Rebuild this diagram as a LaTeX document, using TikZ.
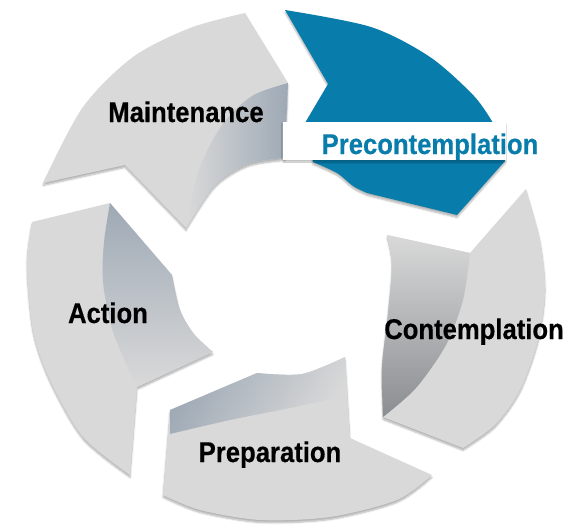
\documentclass[tikz,border=0pt]{standalone}
\usepackage{fontspec}
\newfontfamily\cyclefont{Liberation Sans}[FakeStretch=0.9, BoldFeatures={FakeBold=0.4}]
\usetikzlibrary{shadows.blur}

\definecolor{precblue}{RGB}{8,125,172}
\definecolor{seggray}{RGB}{217,217,217}
\definecolor{foldblue}{RGB}{158,169,181}
\definecolor{folddark}{RGB}{138,141,145}

\begin{document}
\begin{tikzpicture}[x=1pt, y=-1pt,
    segment/.style={fill=seggray, blur shadow={shadow xshift=0pt, shadow yshift=-2.5pt, shadow opacity=30, shadow blur steps=6}},
    stage/.style={font=\cyclefont\bfseries\fontsize{28.5pt}{30pt}\selectfont, anchor=base, inner sep=0pt}
]
\useasboundingbox (0,0) rectangle (568,527);

% Arrows
\path[segment] plot[smooth] coordinates {(43,183) (83,107) (133,57) (190,28) (245,13)} -- (288,83) -- (285,158)
  -- plot[smooth] coordinates {(285,158) (248,164) (215,185) (186,228)} -- (125,165) -- cycle;
\path[segment] (32,222) -- (110,203) -- (172,275) -- plot[smooth] coordinates {(172,275) (180,310) (194,334) (213,352)}
  -- (137,387) -- (130,475) -- plot[smooth] coordinates {(130,475) (83,437) (50,380) (33,330) (27,263) (32,222)} -- cycle;
\path[segment] (170,410) -- (257,373) -- plot[smooth] coordinates {(257,373) (302,374) (345,357)} -- (350,438) -- (432,475)
  -- plot[smooth] coordinates {(432,475) (397,500) (330,517) (260,520) (200,510) (163,495)} -- cycle;
\path[segment] (387,235) -- (470,253) -- (526,189) -- plot[smooth] coordinates {(526,189) (540,240) (545,290) (538,340) (520,390) (495,425) (463,448)}
  -- (383,417) -- plot[smooth] coordinates {(383,417) (382,367) (388,313) (392,263) (387,235)} -- cycle;
\path[segment, fill=precblue] plot[smooth] coordinates {(285,10) (371,27) (430,57) (474,96) (493,123)} -- (505,161) -- (457,215)
  -- (367,193) -- plot[smooth] coordinates {(367,193) (353,186) (337,173) (313,162)} -- (305,123) -- (328,84) -- cycle;

% Folds
\shade[left color=seggray, right color=foldblue] plot[smooth] coordinates {(186,228) (198,172) (222,125) (252,96) (288,83)} -- (285,158)
  -- plot[smooth] coordinates {(285,158) (248,164) (215,185) (186,228)} -- cycle;
\shade[top color=foldblue, bottom color=seggray] (110,203) -- (172,275) -- plot[smooth] coordinates {(172,275) (180,310) (194,334) (213,352)}
  -- (137,387) -- plot[smooth] coordinates {(137,387) (113,332) (103,282) (104,242) (110,203)} -- cycle;
\shade[top color=foldblue, bottom color=seggray, shading angle=60] (170,434) -- (170,410) -- (257,373) -- plot[smooth] coordinates {(257,373) (302,374) (345,357)}
  -- (348,395) -- plot[smooth] coordinates {(348,395) (290,408) (230,420) (170,434)} -- cycle;
\shade[top color=seggray, bottom color=folddark] (387,235) -- (470,253) -- plot[smooth] coordinates {(470,253) (463,300) (446,345) (416,388) (383,417)}
  -- plot[smooth] coordinates {(383,417) (382,367) (388,313) (392,263) (387,235)} -- cycle;

% Label band
\path[fill=white, blur shadow={shadow xshift=0pt, shadow yshift=-2pt, shadow opacity=25}] (283,122) rectangle (506,160);

% Labels
\node[stage] (maint) at (186,122) {Maintenance};
\node[stage, text=precblue] (precon) at (430,154) {Precontemplation};
\node[stage] (contemp) at (474,339) {Contemplation};
\node[stage] (action) at (108,323) {Action};
\node[stage] (prep) at (270,462) {Preparation};

\end{tikzpicture}
\end{document}
